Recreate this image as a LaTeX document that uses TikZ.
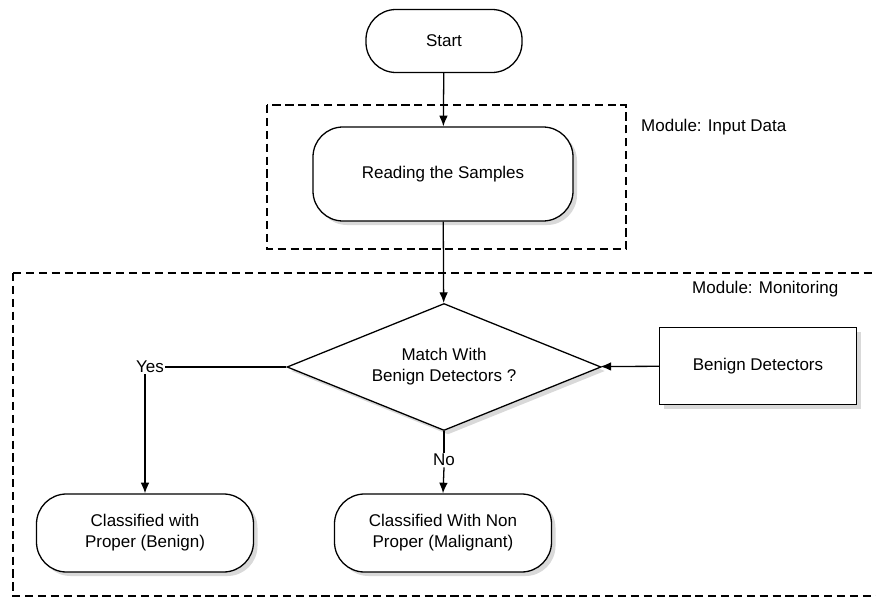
\documentclass[tikz,border=0pt]{standalone}
\usepackage{fontspec}
\setmainfont{Liberation Sans}
\usepackage{tikz}
\usetikzlibrary{
    shapes.geometric,
    arrows.meta,
    shadows,
    positioning,
    calc
}
\tikzset{
    % Base style for all nodes
    flow base/.style={
        font=\fontsize{14.5}{18}\selectfont,
        align=center,
        text=black,
        line width=1.1pt,
        draw=black,
        fill=white,
    },
    % Soft drop shadow
    soft shadow/.style={
        drop shadow={shadow xshift=0.12cm, shadow yshift=-0.12cm, opacity=0.3, fill=gray},
    },
    % Terminal / process pills
    pill/.style={
        flow base,
        rectangle,
        rounded corners=0.9cm,
    },
    % Decision diamond
    decision/.style={
        flow base,
        diamond,
        aspect=2.47,
        inner sep=0pt,
        minimum width=9.42cm,
        minimum height=3.81cm,
        soft shadow,
    },
    % Plain data box
    databox/.style={
        flow base,
        rectangle,
        minimum width=5.91cm,
        minimum height=2.31cm,
        soft shadow,
    },
    % Module frames
    module frame/.style={
        line width=1.1pt,
        dash pattern=on 7pt off 4pt,
    },
    module label/.style={
        font=\fontsize{14.5}{18}\selectfont,
        anchor=west,
        inner sep=0pt,
    },
    % Branch labels Yes/No
    branch label/.style={
        font=\fontsize{14.5}{18}\selectfont,
        inner sep=1pt,
    },
    % Connectors
    arrow/.style={
        -{Latex[length=3.2mm, width=2.6mm]},
        line width=1.1pt,
    },
    plain line/.style={
        line width=1.1pt,
    },
}

\begin{document}
\begin{tikzpicture}[x=0.03cm, y=-0.03cm]
    \useasboundingbox (0,0) rectangle (876,597);

    % module frames
    \draw [module frame] (267,105) rectangle (626,249);
    \draw [module frame] (13,273) -- (890,273);
    \draw [module frame] (13,273) -- (13,596) -- (890,596);
    \node (inputlbl) [module label] at (641,127) {Module: Input Data};
    \node (monlbl) [module label] at (692,289) {Module: Monitoring};

    % flow nodes
    \node (start) [pill, minimum width=4.68cm, minimum height=1.89cm] at (444,41) {Start};
    \node (read) [pill, soft shadow, minimum width=7.8cm, minimum height=2.82cm] at (443,174) {Reading the Samples};
    \node (match) [decision] at (444,367) {Match With\\Benign Detectors ?};
    \node (detect) [databox] at (758,366) {Benign Detectors};
    \node (yes) [branch label] at (150,367) {Yes};
    \node (no) [branch label] at (444,460) {No};
    \node (benign) [pill, soft shadow, minimum width=6.51cm, minimum height=2.34cm] at (145,533) {Classified with\\Proper (Benign)};
    \node (malig) [pill, soft shadow, minimum width=6.51cm, minimum height=2.34cm] at (443,533) {Classified With Non\\Proper (Malignant)};

    % connectors
    \draw [arrow] (start) -- (read);
    \draw [arrow] (read) -- (match);
    \draw [arrow] (detect) -- (match);
    \draw [plain line] (match.west) -- (yes.east);
    \draw [arrow] (yes.south -| benign.north) -- (benign.north);
    \draw [plain line] (match.south) -- (no.north);
    \draw [arrow] (no.south) -- (malig.north);
\end{tikzpicture}
\end{document}
